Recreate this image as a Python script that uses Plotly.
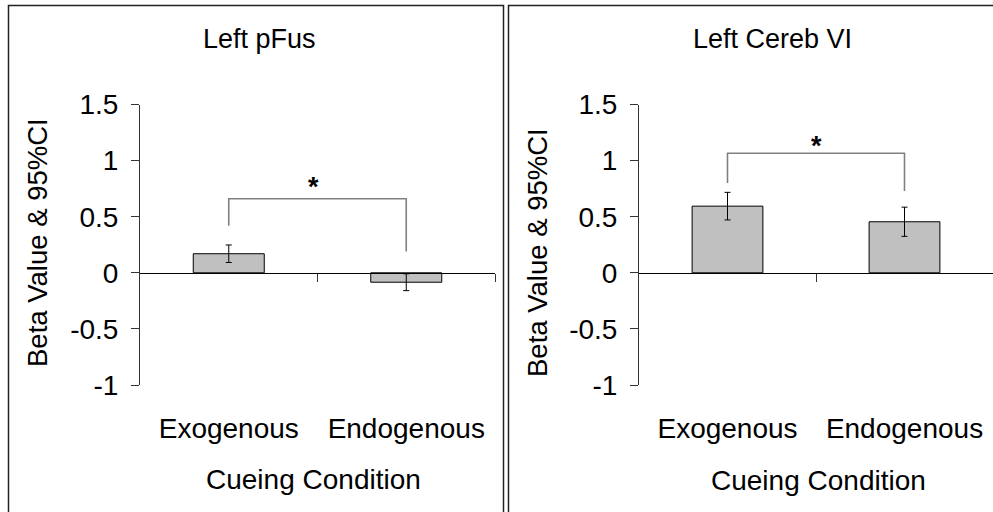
import plotly.graph_objects as go

W, H = 993, 512

categories = ["Exogenous", "Endogenous"]
cat_pos = [0, 1]

panel_titles = ["Left pFus", "Left Cereb VI"]

pfus_values = [0.17, -0.084]
pfus_ci = [0.078, 0.075]
cereb_values = [0.594, 0.455]
cereb_ci = [0.123, 0.13]

# significance brackets: x positions and y values (leg bottom, top, top, leg bottom)
bracket_x = [0, 0, 1, 1]
pfus_bracket_y = [0.42, 0.66, 0.66, 0.19]
cereb_bracket_y = [0.80, 1.066, 1.066, 0.73]
pfus_star_y = 0.80
cereb_star_y = 1.17

y_ticks = [-1, -0.5, 0, 0.5, 1, 1.5]
y_ticktext = ["-1", "-0.5", "0", "0.5", "1", "1.5"]
y_range = [-1, 1.5]
x_range = [-0.5, 1.5]
boundary_ticks = [0.5, 1.5]

FONT = "Liberation Sans, Arial, sans-serif"
TXT = "#000000"

ydom = [1 - 385 / H, 1 - 104.5 / H]
zero_pos = ydom[0] + (0 - y_range[0]) / (y_range[1] - y_range[0]) * (ydom[1] - ydom[0])
xdom_left = [140 / W, 495 / W]
xdom_right = [639 / W, 1.0]

fig = go.Figure()

def add_panel(values, ci, bracket_y, xa, xa_zero, ya):
    fig.add_trace(go.Bar(
        x=cat_pos, y=values, width=0.4,
        marker=dict(color="#C0C0C0", line=dict(color="#000000", width=1)),
        error_y=dict(type="data", array=ci, visible=True, color="#000000",
                     thickness=1, width=3),
        xaxis=xa, yaxis=ya, showlegend=False, hoverinfo="skip"))
    # bracket drawn on the zero-line x axis (same range as the category axis)
    fig.add_trace(go.Scatter(
        x=bracket_x, y=bracket_y, mode="lines",
        line=dict(color="#808080", width=1.6),
        xaxis=xa_zero, yaxis=ya, showlegend=False, hoverinfo="skip"))

add_panel(pfus_values, pfus_ci, pfus_bracket_y, "x", "x3", "y")
add_panel(cereb_values, cereb_ci, cereb_bracket_y, "x2", "x4", "y2")

def xaxis_main(dom, anchor):
    return dict(domain=dom, range=x_range, tickvals=cat_pos, ticktext=categories,
                showline=False, showgrid=False, zeroline=False, ticks="",
                tickfont=dict(family=FONT, size=28, color=TXT),
                ticklabelstandoff=24, anchor=anchor, fixedrange=True, automargin=False)

def yaxis_main(anchor):
    return dict(domain=ydom, range=y_range, tickvals=y_ticks, ticktext=y_ticktext,
                showline=True, linecolor="#333333", linewidth=1,
                ticks="outside", ticklen=8, tickcolor="#333333", tickwidth=1,
                showgrid=False, zeroline=False,
                tickfont=dict(family=FONT, size=28, color=TXT),
                ticklabelstandoff=7, anchor=anchor, fixedrange=True, automargin=False)

def xaxis_zero(over, dom):
    return dict(overlaying=over, anchor="free", position=zero_pos, range=x_range,
                domain=dom, tickvals=boundary_ticks, showticklabels=False,
                showline=True, linecolor="#000000", linewidth=1,
                ticks="outside", ticklen=8, tickcolor="#333333", tickwidth=1,
                showgrid=False, zeroline=False, fixedrange=True, automargin=False)

fig.update_layout(
    width=W, height=H,
    margin=dict(l=0, r=0, t=0, b=0, pad=0, autoexpand=False),
    paper_bgcolor="white", plot_bgcolor="white",
    showlegend=False,
    xaxis=xaxis_main(xdom_left, "y"),
    yaxis=yaxis_main("x"),
    xaxis2=xaxis_main(xdom_right, "y2"),
    yaxis2=yaxis_main("x2"),
    xaxis3=xaxis_zero("x", xdom_left),
    xaxis4=xaxis_zero("x2", xdom_right),
)

def text_ann(text, px, py, size, angle=0, xref="paper", yref="paper", yshift=0):
    return dict(text=text, x=px, y=py, xref=xref, yref=yref, xanchor="center",
                yanchor="middle", textangle=angle, showarrow=False, yshift=yshift,
                font=dict(family=FONT, size=size, color=TXT))

ann = [
    text_ann(panel_titles[0], 259 / W, 1 - 39 / H, 27),
    text_ann(panel_titles[1], 772 / W, 1 - 39 / H, 27),
    text_ann("Beta Value & 95%CI", 37 / W, 1 - 243 / H, 27.5, angle=-90),
    text_ann("Beta Value & 95%CI", 537 / W, 1 - 253 / H, 27.5, angle=-90),
    text_ann("Cueing Condition", 313 / W, 1 - 479 / H, 28),
    text_ann("Cueing Condition", 818 / W, 1 - 480 / H, 28),
    text_ann("<b>*</b>", 0.48, pfus_star_y, 27, xref="x", yref="y", yshift=-4),
    text_ann("<b>*</b>", 0.5, cereb_star_y, 27, xref="x2", yref="y2", yshift=-4),
]
fig.update_layout(annotations=ann)

# panel borders
for x0, x1 in [(8.5 / W, 503.5 / W), (508.5 / W, 1.05)]:
    fig.add_shape(type="rect", xref="paper", yref="paper", x0=x0, x1=x1,
                  y0=-0.05, y1=1 - 5.5 / H, line=dict(color="#222222", width=1.5),
                  fillcolor="rgba(0,0,0,0)", layer="below")

fig.write_html("out.html", config={"displayModeBar": False},
               post_script="document.body.style.margin='0';document.body.style.overflow='hidden';")
